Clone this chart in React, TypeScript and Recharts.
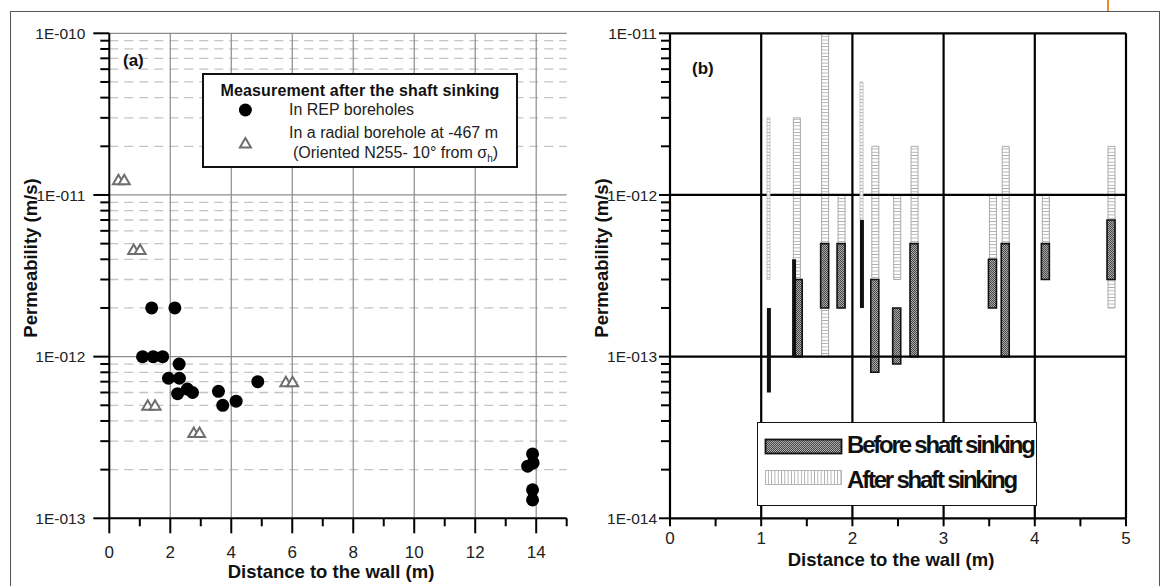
import React from "react";
import { ComposedChart, Scatter, Bar, XAxis, YAxis, ReferenceLine } from "recharts";

const FONT = "'Liberation Sans', Arial, sans-serif";

// (a) permeability measured after the shaft sinking
const REP_X = [1.39, 2.15, 1.09, 1.44, 1.75, 2.29, 1.94, 2.3, 2.24, 2.56, 2.73, 3.58, 3.72, 4.16, 4.87, 13.72, 13.88, 13.9, 13.88, 13.88];
const REP_K = [2.0e-12, 2.0e-12, 1.0e-12, 1.0e-12, 1.0e-12, 9.0e-13, 7.35e-13, 7.35e-13, 5.9e-13, 6.3e-13, 6.0e-13, 6.1e-13, 5.0e-13, 5.3e-13, 7.0e-13, 2.1e-13, 2.5e-13, 2.2e-13, 1.5e-13, 1.3e-13];
const RADIAL_X = [0.3, 0.49, 0.8, 1.01, 1.26, 1.5, 2.77, 2.96, 5.79, 6.01];
const RADIAL_K = [1.24e-11, 1.24e-11, 4.6e-12, 4.6e-12, 5.0e-13, 5.0e-13, 3.4e-13, 3.4e-13, 7.0e-13, 7.0e-13];

// (b) permeability ranges before / after shaft sinking
const BEFORE_X = [1.41, 1.7, 1.88, 2.25, 2.49, 2.68, 3.54, 3.68, 4.12, 4.84];
const BEFORE_LO = [1e-13, 2e-13, 2e-13, 8e-14, 9e-14, 1e-13, 2e-13, 1e-13, 3e-13, 3e-13];
const BEFORE_HI = [3e-13, 5e-13, 5e-13, 3e-13, 2e-13, 5e-13, 4e-13, 5e-13, 5e-13, 7e-13];
const AFTER_X = [1.39, 1.7, 1.88, 2.25, 2.49, 2.68, 3.54, 3.68, 4.12, 4.84];
const AFTER_LO = [1e-13, 1e-13, 2e-13, 3e-13, 3e-13, 5e-13, 4e-13, 5e-13, 3e-13, 2e-13];
const AFTER_HI = [3e-12, 1e-11, 1e-12, 2e-12, 1e-12, 2e-12, 1e-12, 2e-12, 1e-12, 2e-12];
const BEFORE_SINGLE_X = [1.08, 1.356, 2.1];
const BEFORE_SINGLE_LO = [6e-14, 1e-13, 2e-13];
const BEFORE_SINGLE_HI = [2e-13, 4e-13, 7e-13];
const AFTER_SINGLE_X = [1.08, 2.1];
const AFTER_SINGLE_LO = [3e-13, 7e-13];
const AFTER_SINGLE_HI = [3e-12, 5e-12];

// axes
const DECADES_A = [1e-13, 1e-12, 1e-11, 1e-10];
const DECADES_B = [1e-14, 1e-13, 1e-12, 1e-11];
const MINOR_STEPS = [2, 3, 4, 5, 6, 7, 8, 9];
const X_TICKS_A = [0, 1, 2, 3, 4, 5, 6, 7, 8, 9, 10, 11, 12, 13, 14, 15];
const X_GRID_A = [2, 4, 6, 8, 10, 12, 14];
const X_TICKS_B = [0, 0.5, 1, 1.5, 2, 2.5, 3, 3.5, 4, 4.5, 5];
const X_GRID_B = [1, 2, 3, 4, 5];

const minorsOf = (decades: number[]) =>
  decades.slice(0, -1).flatMap((d) => MINOR_STEPS.map((m) => m * d));
const MINOR_A = minorsOf(DECADES_A);
const MINOR_B = minorsOf(DECADES_B);
const Y_TICKS_A = [...DECADES_A, ...MINOR_A];
const Y_TICKS_B = [...DECADES_B, ...MINOR_B];

const repData = REP_X.map((x, i) => ({ x, k: REP_K[i] }));
const radialData = RADIAL_X.map((x, i) => ({ x, k: RADIAL_K[i] }));
const wideRows = BEFORE_X.map((xb, i) => ({
  xb,
  before: [BEFORE_LO[i], BEFORE_HI[i]],
  xa: AFTER_X[i],
  after: [AFTER_LO[i], AFTER_HI[i]],
}));
const beforeSingleRows = BEFORE_SINGLE_X.map((x, i) => ({ x, v: [BEFORE_SINGLE_LO[i], BEFORE_SINGLE_HI[i]] }));
const afterSingleRows = AFTER_SINGLE_X.map((x, i) => ({ x, v: [AFTER_SINGLE_LO[i], AFTER_SINGLE_HI[i]] }));

const isDecade = (v: number) => Math.abs(Math.log10(v) - Math.round(Math.log10(v))) < 1e-6;
const sci = (v: number) => {
  const e = Math.round(Math.log10(v));
  return `1E${e < 0 ? "-" : "+"}${String(Math.abs(e)).padStart(3, "0")}`;
};

// tick line lengths differ for major / minor ticks, so ticks are drawn by hand
function makeYTick(gap: number, majorLen: number, minorLen: number) {
  return (props: any) => {
    const x = Number(props.x);
    const y = Number(props.y);
    const major = isDecade(props.payload.value);
    return (
      <g>
        <line x1={x} x2={x - (major ? majorLen : minorLen)} y1={y} y2={y} stroke="#000" strokeWidth={2} />
        {major && (
          <text x={x - gap} y={y} dy="0.36em" textAnchor="end" fontSize={15.5} fontFamily={FONT} fill="#222">
            {sci(props.payload.value)}
          </text>
        )}
      </g>
    );
  };
}

function makeXTick(gap: number, majorLen: number, minorLen: number, isMajor: (v: number) => boolean) {
  return (props: any) => {
    const x = Number(props.x);
    const y = Number(props.y);
    const major = isMajor(props.payload.value);
    return (
      <g>
        <line x1={x} x2={x} y1={y} y2={y + (major ? majorLen : minorLen)} stroke="#000" strokeWidth={2} />
        {major && (
          <text x={x} y={y + gap} dy="0.36em" textAnchor="middle" fontSize={17} fontFamily={FONT} fill="#222">
            {props.payload.value}
          </text>
        )}
      </g>
    );
  };
}

const Dot = (p: any) => <circle cx={p.cx} cy={p.cy} r={6.5} fill="#000" />;
const Tri = (p: any) => (
  <polygon
    points={`${p.cx},${p.cy - 5} ${p.cx + 5.5},${p.cy + 4.5} ${p.cx - 5.5},${p.cy + 4.5}`}
    fill="#fff"
    stroke="#6e6e6e"
    strokeWidth={2}
  />
);

const Patterns = () => (
  <defs>
    <pattern id="afterPat" width="6" height="3.3" patternUnits="userSpaceOnUse">
      <rect width="6" height="3.3" fill="#fff" />
      <line x1="0" x2="6" y1="0.4" y2="0.4" stroke="#a9a9a9" strokeWidth="0.9" />
    </pattern>
    <pattern id="afterPatV" width="3.3" height="6" patternUnits="userSpaceOnUse">
      <rect width="3.3" height="6" fill="#fff" />
      <line y1="0" y2="6" x1="0.4" x2="0.4" stroke="#a9a9a9" strokeWidth="0.9" />
    </pattern>
    <pattern id="beforePat" width="2" height="2" patternUnits="userSpaceOnUse">
      <rect width="2" height="2" fill="#a8a8a8" />
      <rect width="1" height="1" fill="#4a4a4a" />
      <rect x="1" y="1" width="1" height="1" fill="#4a4a4a" />
    </pattern>
  </defs>
);

const title: React.CSSProperties = {
  position: "absolute",
  fontFamily: FONT,
  fontWeight: "bold",
  fontSize: 18.5,
  whiteSpace: "nowrap",
  color: "#111",
};

const PLOT_B = { width: 575, height: 586 };
const MARGIN_B = { top: 33.3, right: 39, bottom: 27.7, left: 20 };
const OVERLAY_MARGIN_B = { top: 33.3, right: 39, bottom: 67.7, left: 80 };

export default function App() {
  return (
    <div style={{ position: "absolute", left: 0, top: 0, width: 1165, height: 586, background: "#fff", overflow: "hidden" }}>
      <div style={{ position: "absolute", left: 10, top: 11, width: 1150, height: 600, border: "1px solid #555", boxSizing: "border-box" }} />
      <div style={{ position: "absolute", left: 1107, top: 0, width: 2, height: 11, background: "#f08a24" }} />

      {/* panel (a) */}
      <div style={{ position: "absolute", left: 0, top: 0 }}>
        <ComposedChart width={590} height={586} margin={{ top: 33.3, right: 23.3, bottom: 27.7, left: 49.3 }}>
          <XAxis
            type="number"
            dataKey="x"
            domain={[0, 15]}
            allowDataOverflow
            ticks={X_TICKS_A}
            interval={0}
            height={40}
            tickSize={0}
            tickMargin={0}
            tickLine={false}
            axisLine={{ stroke: "#000", strokeWidth: 2 }}
            tick={makeXTick(34, 15, 8, (v) => v % 2 === 0)}
          />
          <YAxis
            type="number"
            dataKey="k"
            scale="log"
            domain={[1e-13, 1e-10]}
            allowDataOverflow
            ticks={Y_TICKS_A}
            interval={0}
            width={60}
            tickSize={0}
            tickMargin={0}
            tickLine={false}
            axisLine={{ stroke: "#000", strokeWidth: 2 }}
            tick={makeYTick(24, 16, 9)}
          />
          {MINOR_A.map((v) => (
            <ReferenceLine key={`m${v}`} y={v} stroke="#c4c4c4" strokeWidth={1.3} strokeDasharray="9 6" />
          ))}
          {DECADES_A.slice(1).map((v) => (
            <ReferenceLine key={`d${v}`} y={v} stroke="#8c8c8c" strokeWidth={1.2} />
          ))}
          {X_GRID_A.map((v) => (
            <ReferenceLine key={`x${v}`} x={v} stroke="#8c8c8c" strokeWidth={1.2} />
          ))}
          <Scatter data={radialData} shape={Tri} isAnimationActive={false} />
          <Scatter data={repData} shape={Dot} isAnimationActive={false} />
        </ComposedChart>
      </div>

      <div style={{ ...title, left: 123, top: 51, fontSize: 17 }}>(a)</div>
      <div style={{ ...title, left: 30.5, top: 258, transform: "translate(-50%, -50%) rotate(-90deg)" }}>
        Permeability (m/s)
      </div>
      <div style={{ ...title, left: 331, top: 572, transform: "translate(-50%, -50%)" }}>Distance to the wall (m)</div>

      {/* legend (a) */}
      <div
        style={{
          position: "absolute",
          left: 202,
          top: 73,
          width: 316,
          height: 95,
          border: "2px solid #111",
          boxSizing: "border-box",
          background: "#fff",
          fontFamily: FONT,
          color: "#222",
        }}
      >
        <div style={{ position: "absolute", left: 0, width: 312, top: 7, textAlign: "center", fontWeight: "bold", fontSize: 16, letterSpacing: 0.15, whiteSpace: "nowrap", color: "#111" }}>
          Measurement after the shaft sinking
        </div>
        <svg style={{ position: "absolute", left: 0, top: 0 }} width={80} height={90}>
          <circle cx={41.4} cy={35} r={6.5} fill="#000" />
          <polygon points="41.4,63 46.9,72.5 35.9,72.5" fill="#fff" stroke="#6e6e6e" strokeWidth={2} />
        </svg>
        <div style={{ position: "absolute", left: 85, top: 26, fontSize: 16, whiteSpace: "nowrap" }}>In REP boreholes</div>
        <div style={{ position: "absolute", left: 85, top: 49, fontSize: 16, whiteSpace: "nowrap" }}>In a radial borehole at -467 m</div>
        <div style={{ position: "absolute", left: 89, top: 69, fontSize: 16, whiteSpace: "nowrap" }}>
          (Oriented N255- 10° from σ<sub style={{ fontSize: 10 }}>h</sub>)
        </div>
      </div>

      {/* panel (b) */}
      <div style={{ position: "absolute", left: 590, top: 0 }}>
        <ComposedChart width={PLOT_B.width} height={PLOT_B.height} data={wideRows} margin={MARGIN_B}>
          <Patterns />
          <XAxis
            type="number"
            dataKey="xa"
            domain={[0, 5]}
            allowDataOverflow
            ticks={X_TICKS_B}
            interval={0}
            height={40}
            tickSize={0}
            tickMargin={0}
            tickLine={false}
            axisLine={{ stroke: "#000", strokeWidth: 2.2 }}
            tick={makeXTick(20, 8, 8, (v) => Number.isInteger(v))}
          />
          <XAxis xAxisId="b" type="number" dataKey="xb" domain={[0, 5]} allowDataOverflow hide />
          <YAxis
            type="number"
            scale="log"
            domain={[1e-14, 1e-11]}
            allowDataOverflow
            ticks={Y_TICKS_B}
            interval={0}
            width={60}
            tickSize={0}
            tickMargin={0}
            tickLine={false}
            axisLine={{ stroke: "#000", strokeWidth: 2.2 }}
            tick={makeYTick(13, 11, 9)}
          />
          <Bar dataKey="after" barSize={7} fill="url(#afterPat)" stroke="#a9a9a9" strokeWidth={1} isAnimationActive={false} />
          <Bar xAxisId="b" dataKey="before" barSize={8} fill="url(#beforePat)" stroke="#111" strokeWidth={1.6} isAnimationActive={false} />
          {X_GRID_B.map((v) => (
            <ReferenceLine key={`x${v}`} x={v} stroke="#000" strokeWidth={2.2} />
          ))}
          {DECADES_B.slice(1).map((v) => (
            <ReferenceLine key={`d${v}`} y={v} stroke="#000" strokeWidth={2.2} />
          ))}
        </ComposedChart>
      </div>
      <div style={{ position: "absolute", left: 590, top: 0 }}>
        <ComposedChart width={PLOT_B.width} height={PLOT_B.height} data={afterSingleRows} margin={OVERLAY_MARGIN_B}>
          <Patterns />
          <XAxis type="number" dataKey="x" domain={[0, 5]} allowDataOverflow hide />
          <YAxis type="number" scale="log" domain={[1e-14, 1e-11]} allowDataOverflow hide />
          <Bar dataKey="v" barSize={3} fill="url(#afterPat)" stroke="#b5b5b5" strokeWidth={0.8} isAnimationActive={false} />
        </ComposedChart>
      </div>
      <div style={{ position: "absolute", left: 590, top: 0 }}>
        <ComposedChart width={PLOT_B.width} height={PLOT_B.height} data={beforeSingleRows} margin={OVERLAY_MARGIN_B}>
          <XAxis type="number" dataKey="x" domain={[0, 5]} allowDataOverflow hide />
          <YAxis type="number" scale="log" domain={[1e-14, 1e-11]} allowDataOverflow hide />
          <Bar dataKey="v" barSize={4} fill="#111" isAnimationActive={false} />
        </ComposedChart>
      </div>

      <div style={{ ...title, left: 692, top: 59, fontSize: 17 }}>(b)</div>
      <div style={{ ...title, left: 602, top: 258, transform: "translate(-50%, -50%) rotate(-90deg)" }}>
        Permeability (m/s)
      </div>
      <div style={{ ...title, left: 891, top: 560, transform: "translate(-50%, -50%)" }}>Distance to the wall (m)</div>

      {/* legend (b) */}
      <div
        style={{
          position: "absolute",
          left: 757,
          top: 421.7,
          width: 280,
          height: 84,
          border: "1.5px solid #111",
          boxSizing: "border-box",
          background: "#fff",
          fontFamily: FONT,
        }}
      >
        <svg style={{ position: "absolute", left: 0, top: 0 }} width={90} height={80}>
          <Patterns />
          <rect x={7.5} y={16.5} width={76} height={14} fill="url(#beforePat)" stroke="#111" strokeWidth={1.8} />
          <rect x={7.5} y={47.5} width={76} height={14} fill="url(#afterPatV)" stroke="#b5b5b5" strokeWidth={1} />
        </svg>
        <div style={{ position: "absolute", left: 89, top: 8, fontSize: 24, fontWeight: "bold", letterSpacing: -2.2, whiteSpace: "nowrap", color: "#111" }}>
          Before shaft sinking
        </div>
        <div style={{ position: "absolute", left: 89, top: 43, fontSize: 24, fontWeight: "bold", letterSpacing: -2.2, whiteSpace: "nowrap", color: "#111" }}>
          After shaft sinking
        </div>
      </div>
    </div>
  );
}
